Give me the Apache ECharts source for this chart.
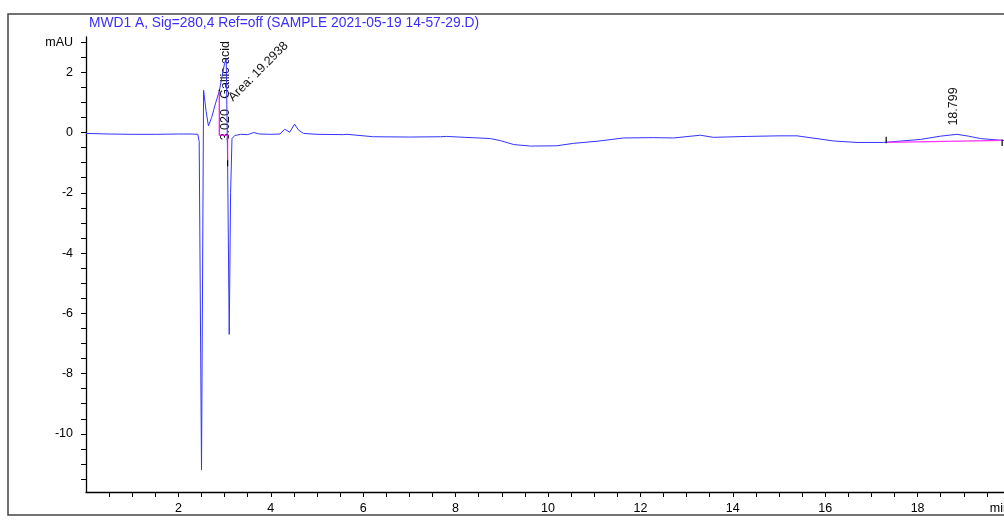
<!DOCTYPE html>
<html>
<head>
<meta charset="utf-8">
<script src="https://cdn.jsdelivr.net/npm/echarts@6/dist/echarts.min.js"></script>
<style>
html, body { margin: 0; padding: 0; background: #fff; }
#chart { width: 1004px; height: 529px; }
</style>
</head>
<body>
<div id="chart"></div>
<script>
const titleText = 'MWD1 A, Sig=280,4 Ref=off (SAMPLE 2021-05-19 14-57-29.D)';

// chromatogram trace (min, mAU)
const timeMin = [0.00, 0.50, 1.00, 1.50, 2.00, 2.30, 2.42, 2.45, 2.50, 2.545, 2.56, 2.60, 2.65, 2.72, 2.80, 2.885,
    2.95, 3.00, 3.035, 3.065, 3.10, 3.13, 3.16, 3.22, 3.35, 3.50, 3.63, 3.75, 4.00, 4.20, 4.30, 4.41,
    4.515, 4.60, 4.71, 5.00, 5.57, 5.65, 6.22, 7.00, 7.67, 7.80, 8.20, 8.75, 8.97, 9.26, 9.62, 10.19,
    10.55, 11.06, 11.64, 12.29, 12.72, 13.30, 13.58, 14.31, 15.00, 15.39, 16.18, 16.69, 17.26, 18.06,
    18.50, 18.85, 19.10, 19.36, 19.83, 20.00];
const signalMau = [-0.03, -0.05, -0.06, -0.06, -0.05, -0.05, -0.06, -0.30, -11.20, 1.40, 1.38, 0.70, 0.22, 0.50, 0.95, 1.37,
    1.90, 2.30, 2.45, -0.92, -6.70, -2.00, -0.20, -0.10, -0.06, -0.07, 0.00, -0.05, -0.06, -0.05, 0.11, 0.01,
    0.28, 0.08, -0.03, -0.06, -0.07, -0.06, -0.14, -0.15, -0.14, -0.13, -0.16, -0.20, -0.27, -0.40, -0.45, -0.44,
    -0.36, -0.29, -0.18, -0.17, -0.18, -0.09, -0.16, -0.13, -0.11, -0.11, -0.28, -0.33, -0.33, -0.23,
    -0.12, -0.06, -0.12, -0.20, -0.26, -0.27];

// integration baselines (magenta) and peak start/end marks (black)
const gallicBaseT = [2.885, 2.885, 3.065, 3.065];
const gallicBaseV = [1.37, -0.09, -0.09, -0.92];
const lastBaseT = [17.32, 19.83];
const lastBaseV = [-0.33, -0.26];
const markT = [[2.87, 2.90], [3.065, 3.065], [17.32, 17.32], [19.83, 19.83]];
const markV = [[1.40, 1.40], [-0.92, -1.12], [-0.14, -0.36], [-0.23, -0.45]];

// peak annotations
const gallicRt = '3.020';
const gallicName = 'Gallic acid';
const gallicArea = 'Area: 19.2938';
const lastRt = '18.799';

// axes
const xMin = 0, xMax = 20;
const yMin = -11.93, yMax = 3.17;
const xTicks = [];
for (let v = 0.5; v <= 19.5; v += 0.5) xTicks.push(v);
const xLabels = [2, 4, 6, 8, 10, 12, 14, 16, 18];
const xUnitAt = 19.78;
const xUnit = 'min';
const yTicks = [];
for (let v = -11.5; v <= 3; v += 0.5) yTicks.push(v);
const yLabels = [-10, -8, -6, -4, -2, 0, 2];
const yUnitAt = 3;
const yUnit = 'mAU';

const font = "'Liberation Sans', Arial, sans-serif";
const pair = (ts, vs) => ts.map((t, i) => [t, vs[i]]);

const chartDom = document.getElementById('chart');
const myChart = echarts.init(chartDom, null, { renderer: 'canvas' });

const option = {
    animation: false,
    backgroundColor: '#fff',
    title: {
        text: titleText,
        left: 89,
        top: 16,
        padding: 0,
        textStyle: { fontFamily: font, fontSize: 13.8, fontWeight: 'normal', color: '#3a2dff' }
    },
    grid: { left: 86, right: -6, top: 37, bottom: 37, outerBoundsMode: 'none', containLabel: false },
    xAxis: {
        type: 'value',
        min: xMin,
        max: xMax,
        splitLine: { show: false },
        axisLine: { onZero: false, lineStyle: { color: '#000', width: 1.3 } },
        axisTick: { customValues: xTicks, length: 5, lineStyle: { color: '#000', width: 1 } },
        axisLabel: {
            customValues: xLabels.concat([xUnitAt]),
            margin: 10,
            fontFamily: font,
            fontSize: 12.5,
            color: '#000',
            formatter: (v) => (v === xUnitAt ? xUnit : String(v))
        }
    },
    yAxis: {
        type: 'value',
        min: yMin,
        max: yMax,
        splitLine: { show: false },
        axisLine: { onZero: false, lineStyle: { color: '#000', width: 1.3 } },
        axisTick: { customValues: yTicks, length: 5, lineStyle: { color: '#000', width: 1 } },
        axisLabel: {
            customValues: yLabels.concat([yUnitAt]),
            margin: 13,
            fontFamily: font,
            fontSize: 12.5,
            color: '#000',
            formatter: (v) => (v === yUnitAt ? yUnit : String(v))
        }
    },
    series: [
        {
            type: 'line',
            data: pair(timeMin, signalMau),
            symbol: 'none',
            lineStyle: { color: '#3333ff', width: 1 },
            z: 3
        },
        {
            type: 'line',
            data: pair(gallicBaseT, gallicBaseV),
            symbol: 'none',
            lineStyle: { color: '#ff00ff', width: 1.2 },
            z: 4
        },
        {
            type: 'line',
            data: pair(lastBaseT, lastBaseV),
            symbol: 'none',
            lineStyle: { color: '#ff33ff', width: 1.2 },
            z: 4
        }
    ].concat(markT.map((ts, i) => ({
        type: 'line',
        data: pair(ts, markV[i]),
        symbol: 'none',
        lineStyle: { color: '#000', width: 1.2 },
        z: 5
    })))
};

myChart.setOption(option);

// annotations placed from data positions
const px = (t, v) => myChart.convertToPixel({ gridIndex: 0 }, [t, v]);
const textStyle = { fontFamily: font, fontSize: 12.5, fill: '#111' };
const pRt = px(3.02, -0.26);
const pName = px(3.02, 1.12);
const pArea = px(3.13, 1.1);
const pLast = px(18.78, 0.23);

myChart.setOption({
    graphic: [
        {
            type: 'rect',
            shape: { x: 8, y: 14, width: 1010, height: 501 },
            style: { fill: 'none', stroke: '#444', lineWidth: 1.5 },
            silent: true
        },
        {
            type: 'text', x: pRt[0], y: pRt[1], rotation: Math.PI / 2,
            style: Object.assign({ text: gallicRt, textAlign: 'left', textVerticalAlign: 'middle' }, textStyle)
        },
        {
            type: 'text', x: pName[0], y: pName[1], rotation: Math.PI / 2,
            style: Object.assign({ text: gallicName, textAlign: 'left', textVerticalAlign: 'middle' }, textStyle)
        },
        {
            type: 'text', x: pArea[0], y: pArea[1], rotation: Math.PI / 4,
            style: Object.assign({ text: gallicArea, textAlign: 'left', textVerticalAlign: 'middle' }, textStyle)
        },
        {
            type: 'text', x: pLast[0], y: pLast[1], rotation: Math.PI / 2,
            style: Object.assign({ text: lastRt, textAlign: 'left', textVerticalAlign: 'middle' }, textStyle)
        }
    ]
});
</script>
</body>
</html>
